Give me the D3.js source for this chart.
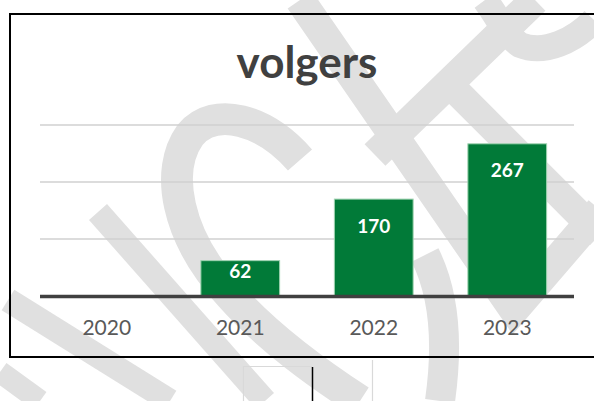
<!DOCTYPE html>
<html>
<head>
<meta charset="utf-8">
<script src="https://cdn.jsdelivr.net/npm/d3@7"></script>
<style>
  html, body { margin: 0; padding: 0; background: #fff; }
  svg { display: block; }
</style>
</head>
<body>
<svg id="chart"></svg>
<script>
// chart data
const years = ["2020", "2021", "2022", "2023"];
const volgers = [null, 62, 170, 267];
const gridValues = [100, 200, 300];
const chartTitle = "volgers";

const width = 594, height = 401;

function drawBarChart(svgSelector) {
    const svg = d3.select(svgSelector)
        .attr("width", width)
        .attr("height", height);

    svg.selectAll("*").remove();

    // achtergrond watermerk (licht grijs)
    const wm = svg.append("g")
        .attr("fill", "none")
        .attr("stroke", "#e0e0e0")
        .attr("stroke-linecap", "butt");
    const wmPaths = [
        ["M300,0 L514,310 L600,210", 30],
        ["M535,0 L375,155", 30],
        ["M447,82 L600,235", 28],
        ["M485,0 C500,20 505,35 520,45 C545,55 575,40 594,20", 26],
        ["M300,160 C265,120 215,105 190,135 C165,170 175,235 230,295 C270,340 320,375 360,401", 32],
        ["M425,255 C445,295 448,345 440,401", 30],
        ["M98,212 L265,401", 24],
        ["M8,300 L170,401", 24],
        ["M0,372 L40,401", 22]
    ];
    wm.selectAll("path")
        .data(wmPaths)
        .enter().append("path")
        .attr("d", d => d[0])
        .attr("stroke-width", d => d[1]);

    // kader
    svg.append("rect")
        .attr("x", 10).attr("y", 14)
        .attr("width", 620).attr("height", 343)
        .attr("fill", "none")
        .attr("stroke", "#000")
        .attr("stroke-width", 2);

    // cellijnen onder de grafiek
    const cells = svg.append("g");
    cells.append("path").attr("d", "M243.5,366 V401 M243,366.5 H312 M372.5,360 V401")
        .attr("stroke", "#d9d9d9").attr("stroke-width", 1.2).attr("fill", "none");
    cells.append("path").attr("d", "M312.5,367 V401")
        .attr("stroke", "#000").attr("stroke-width", 1.5);

    const x = d3.scaleBand()
        .domain(years)
        .range([40, 574])
        .paddingInner(0.41)
        .paddingOuter(0.205);

    const y = d3.scaleLinear()
        .domain([0, 300])
        .range([296, 125]);

    // rasterlijnen
    svg.append("g")
        .selectAll("line")
        .data(gridValues)
        .enter().append("line")
        .attr("x1", 40).attr("x2", 574)
        .attr("y1", d => y(d)).attr("y2", d => y(d))
        .attr("stroke", "#d0d0d0")
        .attr("stroke-width", 1.6);

    // titel
    svg.append("text")
        .attr("x", 307)
        .attr("y", 78)
        .attr("text-anchor", "middle")
        .attr("font-family", "Lato, 'Open Sans', sans-serif")
        .attr("font-weight", "bold")
        .attr("font-size", "44px")
        .attr("fill", "#404040")
        .text(chartTitle);

    const data = years.map((yr, i) => ({ year: yr, value: volgers[i] }))
        .filter(d => d.value != null);

    // staven
    svg.append("g")
        .selectAll("rect")
        .data(data)
        .enter().append("rect")
        .attr("x", d => x(d.year))
        .attr("y", d => y(d.value))
        .attr("width", x.bandwidth())
        .attr("height", d => y(0) - y(d.value))
        .attr("fill", "#017a38")
        .attr("stroke", "#9fd3b0")
        .attr("stroke-width", 1);

    // waardelabels (binnen, bovenaan de staaf)
    svg.append("g")
        .selectAll("text")
        .data(data)
        .enter().append("text")
        .attr("x", d => x(d.year) + x.bandwidth() / 2)
        .attr("y", d => y(d.value) + Math.min(27, (y(0) - y(d.value)) * 0.3))
        .attr("dy", "0.35em")
        .attr("text-anchor", "middle")
        .attr("font-family", "Lato, 'Open Sans', sans-serif")
        .attr("font-weight", "bold")
        .attr("font-size", "19px")
        .attr("fill", "#fff")
        .text(d => d.value);

    // x-as
    svg.append("line")
        .attr("x1", 40).attr("x2", 574)
        .attr("y1", y(0) + 0.5).attr("y2", y(0) + 0.5)
        .attr("stroke", "#404040")
        .attr("stroke-width", 3.5);

    svg.append("g")
        .selectAll("text")
        .data(years)
        .enter().append("text")
        .attr("x", d => x(d) + x.bandwidth() / 2)
        .attr("y", 328)
        .attr("dy", "0.35em")
        .attr("text-anchor", "middle")
        .attr("font-family", "Lato, 'Open Sans', sans-serif")
        .attr("font-size", "21px")
        .attr("fill", "#595959")
        .text(d => d);
}

drawBarChart("#chart");
</script>
</body>
</html>
